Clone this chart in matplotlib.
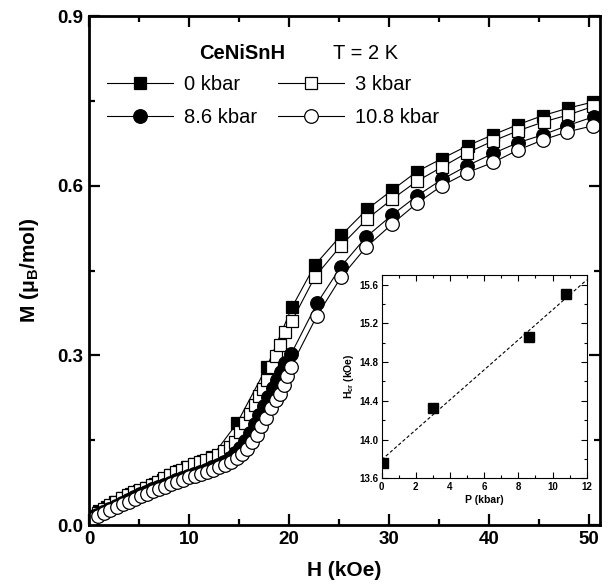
import numpy as np
import matplotlib
matplotlib.use("Agg")
import matplotlib.pyplot as plt
from matplotlib.ticker import MultipleLocator, FormatStrFormatter

plt.rcParams['font.family'] = ['Liberation Sans', 'DejaVu Sans']
plt.rcParams['mathtext.fontset'] = 'custom'
plt.rcParams['mathtext.rm'] = 'Liberation Sans'
plt.rcParams['mathtext.bf'] = 'Liberation Sans:bold'
plt.rcParams['mathtext.it'] = 'Liberation Sans:italic'

# ---------------- data (main panel) ----------------
# 0 kbar (filled squares)
H_0 = [0.3, 1.0, 1.8, 2.6, 3.4, 4.2, 5.0, 5.8, 6.6, 7.4, 8.2, 9.0, 9.8, 10.6, 11.4, 12.3,
       14.8, 17.8, 20.3, 22.6, 25.2, 27.8, 30.3, 32.8, 35.3, 37.9, 40.4, 42.9, 45.4, 47.9, 50.4]
M_0 = [0.016, 0.024, 0.032, 0.040, 0.048, 0.055, 0.061, 0.066, 0.072, 0.080, 0.088, 0.096, 0.102, 0.108, 0.114, 0.121,
       0.180, 0.280, 0.385, 0.460, 0.512, 0.558, 0.592, 0.625, 0.648, 0.671, 0.690, 0.708, 0.724, 0.737, 0.748]

# 3 kbar (open squares)
H_3 = [0.3, 0.9, 1.5, 2.1, 2.7, 3.3, 3.9, 4.5, 5.1, 5.7, 6.3, 6.9, 7.5, 8.1, 8.7, 9.3, 9.9, 10.5,
       11.1, 11.7, 12.3, 12.9, 13.5, 14.1, 14.6, 15.1, 15.6, 16.1, 16.6, 17.0, 17.4, 17.8, 18.3,
       18.7, 19.1, 19.6, 20.3, 22.6, 25.2, 27.8, 30.3, 32.8, 35.3, 37.8, 40.4, 42.9, 45.5, 47.9, 50.4]
M_3 = [0.016, 0.022, 0.029, 0.035, 0.041, 0.047, 0.053, 0.058, 0.062, 0.066, 0.071, 0.076, 0.083, 0.089, 0.094, 0.098, 0.102, 0.107,
       0.111, 0.115, 0.119, 0.124, 0.130, 0.138, 0.147, 0.165, 0.180, 0.196, 0.213, 0.228, 0.241, 0.256, 0.279,
       0.298, 0.318, 0.342, 0.361, 0.439, 0.494, 0.541, 0.576, 0.608, 0.633, 0.658, 0.679, 0.697, 0.713, 0.725, 0.740]

# 8.6 kbar (filled circles)
H_86 = [0.2, 0.8, 1.4, 2.0, 2.7, 3.3, 3.9, 4.5, 5.1, 5.7, 6.3, 6.9, 7.5, 8.1, 8.7, 9.3, 9.9, 10.5,
        11.1, 11.7, 12.3, 12.9, 13.5, 14.1, 14.6, 15.1, 15.6, 16.1, 16.6, 17.0, 17.5, 17.9, 18.4,
        18.8, 19.2, 19.6, 20.2, 22.8, 25.2, 27.7, 30.3, 32.8, 35.3, 37.8, 40.4, 42.9, 45.4, 47.8, 50.5]
M_86 = [0.012, 0.018, 0.023, 0.028, 0.034, 0.039, 0.044, 0.049, 0.054, 0.058, 0.063, 0.067, 0.071, 0.075, 0.079, 0.083, 0.087, 0.090,
        0.094, 0.098, 0.102, 0.106, 0.111, 0.118, 0.127, 0.137, 0.149, 0.163, 0.178, 0.194, 0.210, 0.226, 0.242,
        0.257, 0.271, 0.286, 0.302, 0.392, 0.457, 0.509, 0.548, 0.582, 0.611, 0.635, 0.657, 0.676, 0.690, 0.706, 0.722]

# 10.8 kbar (open circles)
H_108 = [0.3, 0.9, 1.5, 2.1, 2.8, 3.4, 4.0, 4.6, 5.2, 5.8, 6.4, 7.0, 7.6, 8.2, 8.8, 9.4, 10.0, 10.6,
         11.2, 11.8, 12.4, 13.0, 13.6, 14.2, 14.8, 15.3, 15.8, 16.3, 16.8, 17.2, 17.7, 18.2, 18.7,
         19.1, 19.5, 19.8, 20.2, 22.8, 25.2, 27.7, 30.3, 32.8, 35.3, 37.8, 40.4, 42.9, 45.4, 47.8, 50.4]
M_108 = [0.011, 0.016, 0.021, 0.026, 0.032, 0.037, 0.041, 0.046, 0.051, 0.055, 0.060, 0.064, 0.068, 0.072, 0.076, 0.080, 0.084, 0.087,
         0.091, 0.094, 0.098, 0.102, 0.106, 0.111, 0.118, 0.126, 0.135, 0.146, 0.160, 0.175, 0.190, 0.206, 0.221,
         0.232, 0.248, 0.264, 0.280, 0.370, 0.438, 0.491, 0.532, 0.569, 0.600, 0.623, 0.641, 0.663, 0.681, 0.695, 0.706]

labels = ['0 kbar', '3 kbar', '8.6 kbar', '10.8 kbar']

# ---------------- data (inset) ----------------
P_kbar = [0.05, 3.0, 8.65, 10.8]
H_cr = [13.76, 14.33, 15.06, 15.50]

# ---------------- figure ----------------
W, Hpx = 612, 587
fig = plt.figure(figsize=(W / 100, Hpx / 100), dpi=100)
ax = fig.add_axes([89 / W, 1 - 525 / Hpx, (600 - 89) / W, (525 - 16) / Hpx])

ms = 9.2
mew = 0.9
lw = 0.8
h0, = ax.plot(H_0, M_0, '-s', color='black', mfc='black', mec='black', ms=ms, mew=mew, lw=lw)
h3, = ax.plot(H_3, M_3, '-s', color='black', mfc='white', mec='black', ms=ms, mew=mew, lw=lw)
h86, = ax.plot(H_86, M_86, '-o', color='black', mfc='black', mec='black', ms=ms + 0.6, mew=mew, lw=lw)
h108, = ax.plot(H_108, M_108, '-o', color='black', mfc='white', mec='black', ms=ms + 0.6, mew=mew, lw=lw)

ax.set_xlim(0, 51.1)
ax.set_ylim(0, 0.9)
ax.xaxis.set_major_locator(MultipleLocator(10))
ax.xaxis.set_minor_locator(MultipleLocator(5))
ax.yaxis.set_major_locator(MultipleLocator(0.3))
ax.yaxis.set_minor_locator(MultipleLocator(0.15))
ax.yaxis.set_major_formatter(FormatStrFormatter('%.1f'))
ax.tick_params(which='both', direction='in', top=True, right=True, width=1.6)
ax.tick_params(which='major', length=8, labelsize=13.5, pad=4)
ax.tick_params(which='minor', length=4.5)
for lab in ax.get_xticklabels() + ax.get_yticklabels():
    lab.set_fontweight('bold')
for sp in ax.spines.values():
    sp.set_linewidth(2.0)

ax.set_xlabel('H (kOe)', fontsize=15, fontweight='bold', labelpad=10)
ax.set_ylabel('M (μ$_{\\mathbf{B}}$/mol)', fontsize=15, fontweight='bold', labelpad=12)

# legend
leg = ax.legend([h0, h86, h3, h108], [labels[0], labels[2], labels[1], labels[3]],
                ncol=2, loc='upper left', bbox_to_anchor=(0.035, 0.884), frameon=False,
                fontsize=14.5, handlelength=3.3, handletextpad=0.55, columnspacing=1.0,
                labelspacing=0.68, borderpad=0, borderaxespad=0)
ax.text(0.215, 0.927, 'CeNiSnH', transform=ax.transAxes, fontsize=14.5, fontweight='bold',
        va='center', ha='left')
ax.text(0.478, 0.927, 'T = 2 K', transform=ax.transAxes, fontsize=14.5, va='center', ha='left')

# ---------------- inset ----------------
axi = fig.add_axes([381.7 / W, 1 - 478.3 / Hpx, (586.7 - 381.7) / W, (478.3 - 275) / Hpx])
axi.plot(P_kbar, H_cr, 's', color='black', ms=6.5, zorder=3)
coef = np.polyfit(P_kbar, H_cr, 1)
xfit = np.array([0.0, 12.0])
axi.plot(xfit, np.polyval(coef, xfit), '--', color='black', lw=0.8, dashes=(3, 2))
axi.set_xlim(0, 12)
axi.set_ylim(13.6, 15.7)
axi.xaxis.set_major_locator(MultipleLocator(2))
axi.xaxis.set_minor_locator(MultipleLocator(1))
axi.yaxis.set_major_locator(MultipleLocator(0.4))
axi.yaxis.set_minor_locator(MultipleLocator(0.2))
axi.yaxis.set_major_formatter(FormatStrFormatter('%.1f'))
axi.tick_params(which='both', direction='in', top=True, right=True, width=0.8)
axi.tick_params(which='major', length=4, labelsize=7, pad=2.5)
axi.tick_params(which='minor', length=2.5)
for lab in axi.get_xticklabels() + axi.get_yticklabels():
    lab.set_fontweight('bold')
for sp in axi.spines.values():
    sp.set_linewidth(0.8)
axi.set_xlabel('P (kbar)', fontsize=7.5, fontweight='bold', labelpad=2)
axi.set_ylabel('H$_{\\mathbf{cr}}$ (kOe)', fontsize=7.5, fontweight='bold', labelpad=2)

fig.savefig('out.png', dpi=100)
